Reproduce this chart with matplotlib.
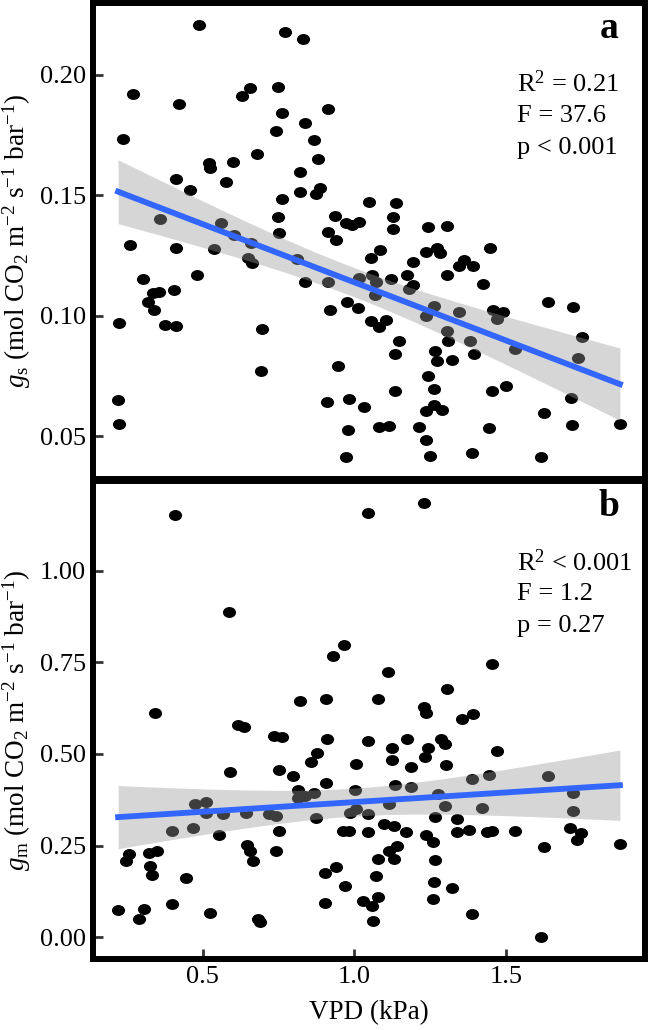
import numpy as np
import matplotlib
matplotlib.use("Agg")
from matplotlib import pyplot as plt
from matplotlib.markers import MarkerStyle
from matplotlib.transforms import Affine2D

plt.rcParams['font.family'] = ['Liberation Serif', 'DejaVu Serif']
plt.rcParams['mathtext.fontset'] = 'custom'
plt.rcParams['mathtext.rm'] = 'Liberation Serif'
plt.rcParams['mathtext.it'] = 'Liberation Serif:italic'
plt.rcParams['mathtext.bf'] = 'Liberation Serif:bold'

# panel a : stomatal conductance vs VPD
vpd_a = [0.488, 0.773, 0.830, 0.271, 0.422, 0.658, 0.631, 0.750, 0.761, 0.912,
         0.238, 0.742, 0.839, 0.868, 0.679, 0.881, 0.521, 0.525, 0.600, 0.414,
         0.461, 0.578, 0.823, 0.823, 0.887, 0.874, 0.761, 1.049, 0.362, 0.563,
         0.748, 0.751, 0.937, 0.973, 0.994, 1.014, 0.915, 1.137, 1.126, 1.126,
         1.241, 1.304, 0.263, 0.414, 0.537, 0.605, 0.660, 0.649, 0.663, 0.304,
         0.337, 0.359, 0.323, 0.340, 0.408, 0.481, 0.225, 0.378, 0.414, 0.695,
         0.693, 0.223, 0.227, 0.810, 0.839, 0.914, 0.940, 1.016, 0.976, 1.011,
         0.920, 0.945, 0.910, 0.984, 1.033, 0.980, 0.973, 1.085, 1.055, 1.192,
         1.236, 1.271, 1.282, 1.362, 1.343, 1.392, 1.446, 1.304, 1.422, 1.175,
         1.121, 1.060, 1.071, 1.192, 1.179, 1.069, 1.263, 1.236, 1.343, 1.455,
         1.488, 1.471, 1.639, 1.720, 1.055, 1.082, 1.106, 1.146, 1.135, 1.305,
         1.307, 1.382, 1.266, 1.271, 1.323, 1.395, 1.530, 1.748, 1.735, 1.241,
         1.135, 1.263, 1.453, 1.499, 1.713, 1.236, 1.263, 1.290, 1.625, 1.082,
         1.115, 1.212, 1.442, 1.718, 1.874, 1.236, 1.249, 1.389, 1.614]
gs = [0.2207, 0.2178, 0.2147, 0.1919, 0.1880, 0.1944, 0.1913, 0.1948, 0.1840, 0.1859,
      0.1732, 0.1768, 0.1800, 0.1729, 0.1671, 0.1650, 0.1633, 0.1611, 0.1636, 0.1567,
      0.1520, 0.1555, 0.1596, 0.1512, 0.1530, 0.1505, 0.1485, 0.1471, 0.1402, 0.1383,
      0.1408, 0.1343, 0.1413, 0.1386, 0.1375, 0.1389, 0.1347, 0.1468, 0.1409, 0.1361,
      0.1368, 0.1371, 0.1295, 0.1280, 0.1277, 0.1333, 0.1303, 0.1240, 0.1220, 0.1151,
      0.1093, 0.1100, 0.1056, 0.1023, 0.1106, 0.1170, 0.0970, 0.0963, 0.0958, 0.0946,
      0.0771, 0.0652, 0.0550, 0.1237, 0.1139, 0.1139, 0.1316, 0.1155, 0.1056, 0.1031,
      0.1024, 0.0791, 0.0643, 0.0653, 0.0622, 0.0527, 0.0416, 0.1272, 0.1240, 0.1224,
      0.1265, 0.1282, 0.1261, 0.1231, 0.1208, 0.1206, 0.1282, 0.1168, 0.1130, 0.1171,
      0.1151, 0.1168, 0.1141, 0.1127, 0.1111, 0.1086, 0.1042, 0.1001, 0.1015, 0.1024,
      0.1015, 0.0987, 0.1056, 0.1035, 0.0977, 0.0952, 0.0983, 0.0894, 0.0843, 0.0936,
      0.0894, 0.0894, 0.0853, 0.0814, 0.0818, 0.0842, 0.0864, 0.0912, 0.0825, 0.0752,
      0.0688, 0.0698, 0.0690, 0.0707, 0.0660, 0.0607, 0.0632, 0.0611, 0.0597, 0.0537,
      0.0544, 0.0540, 0.0534, 0.0546, 0.0550, 0.0487, 0.0420, 0.0431, 0.0413]

# panel b : mesophyll conductance vs VPD
vpd_b = [0.408, 1.044, 0.587, 0.964, 0.929, 0.819, 0.905, 0.344, 1.230, 1.453,
         1.110, 1.304, 1.077, 1.230, 1.236, 1.392, 1.356, 0.616, 0.636, 0.735,
         0.762, 0.910, 1.044, 0.877, 0.858, 1.006, 0.589, 0.751, 0.797, 0.907,
         0.813, 0.813, 0.836, 0.868, 1.003, 0.474, 0.510, 0.512, 0.567, 0.644,
         0.720, 0.742, 0.872, 0.984, 1.006, 1.044, 0.400, 0.468, 0.552, 0.751,
         0.962, 0.981, 1.044, 0.646, 0.657, 0.742, 0.258, 0.247, 0.323, 0.348,
         0.326, 0.333, 0.665, 0.446, 0.904, 0.940, 0.969, 0.221, 0.307, 0.289,
         0.400, 0.525, 0.682, 0.688, 0.902, 1.027, 1.062, 1.173, 1.123, 1.285,
         1.299, 1.244, 1.234, 1.469, 1.123, 1.187, 1.302, 1.389, 1.444, 1.639,
         1.134, 1.187, 1.276, 1.721, 1.115, 1.299, 1.419, 1.721, 1.266, 1.338,
         1.099, 1.132, 1.170, 1.236, 1.260, 1.338, 1.378, 1.438, 1.453, 1.529,
         1.710, 1.748, 1.735, 1.625, 1.875, 1.140, 1.113, 1.129, 1.079, 1.266,
         1.071, 1.263, 1.320, 1.260, 1.077, 1.058, 1.387, 1.614]
gm = [1.151, 1.156, 0.887, 0.796, 0.766, 0.643, 0.651, 0.611, 1.185, 0.746,
      0.724, 0.676, 0.649, 0.628, 0.612, 0.608, 0.595, 0.578, 0.574, 0.549,
      0.547, 0.542, 0.535, 0.502, 0.477, 0.472, 0.451, 0.456, 0.439, 0.420,
      0.402, 0.381, 0.386, 0.393, 0.402, 0.363, 0.370, 0.339, 0.336, 0.339,
      0.336, 0.330, 0.325, 0.339, 0.350, 0.336, 0.290, 0.297, 0.280, 0.291,
      0.289, 0.289, 0.286, 0.252, 0.236, 0.236, 0.227, 0.207, 0.230, 0.234,
      0.194, 0.171, 0.208, 0.161, 0.175, 0.191, 0.139, 0.075, 0.076, 0.049,
      0.092, 0.066, 0.051, 0.042, 0.093, 0.100, 0.045, 0.540, 0.517, 0.542,
      0.526, 0.517, 0.492, 0.509, 0.484, 0.463, 0.469, 0.431, 0.443, 0.439,
      0.415, 0.410, 0.392, 0.393, 0.363, 0.359, 0.352, 0.345, 0.327, 0.323,
      0.309, 0.304, 0.286, 0.279, 0.259, 0.288, 0.293, 0.286, 0.291, 0.290,
      0.297, 0.284, 0.265, 0.246, 0.253, 0.248, 0.236, 0.214, 0.214, 0.211,
      0.168, 0.151, 0.135, 0.105, 0.110, 0.085, 0.064, 0.000]

gs_ticks = [0.05, 0.10, 0.15, 0.20]
gm_ticks = [0.00, 0.25, 0.50, 0.75, 1.00]
vpd_ticks = [0.5, 1.0, 1.5]

stats_a = ["R$^2$ = 0.21", "F = 37.6", "p < 0.001"]
stats_b = ["R$^2$ < 0.001", "F = 1.2", "p = 0.27"]

ylab_a = r"$g_{\mathrm{s}}$ (mol CO$_2$ m$^{-2}$ s$^{-1}$ bar$^{-1}$)"
ylab_b = r"$g_{\mathrm{m}}$ (mol CO$_2$ m$^{-2}$ s$^{-1}$ bar$^{-1}$)"


def lm_band(x, y, n=100):
    # linear fit with 95% confidence band, like geom_smooth(method="lm")
    x = np.asarray(x)
    y = np.asarray(y)
    slope, icpt = np.polyfit(x, y, 1)
    xs = np.linspace(x.min(), x.max(), n)
    fit = icpt + slope * xs
    resid = y - (icpt + slope * x)
    s = np.sqrt(np.sum(resid ** 2) / (len(x) - 2))
    se = s * np.sqrt(1.0 / len(x) + (xs - x.mean()) ** 2 / np.sum((x - x.mean()) ** 2))
    t = 1.977
    return xs, fit, fit - t * se, fit + t * se


def panel(ax, x, y, yticks, ylab, letter, stats):
    dot = MarkerStyle('o', transform=Affine2D().scale(1.2, 1.0))
    ax.scatter(x, y, s=62, marker=dot, color='black', linewidths=0, zorder=2)
    xs, fit, lo, hi = lm_band(x, y)
    ax.fill_between(xs, lo, hi, color='#999999', alpha=0.4, linewidth=0, zorder=3)
    ax.plot(xs, fit, color='#3366FF', linewidth=4.2, zorder=4)
    ax.margins(0.05)
    ax.set_yticks(yticks)
    ax.set_yticklabels(["%.2f" % v for v in yticks])
    ax.set_xticks(vpd_ticks)
    for sp in ax.spines.values():
        sp.set_linewidth(4.3)
        sp.set_color('black')
    ax.tick_params(direction='in', length=7, width=2, color='#333333',
                   labelsize=19, pad=5)
    ax.set_ylabel(ylab, fontsize=19.5)
    ax.yaxis.set_label_coords(-0.108, 0.5)
    ax.text(0.935, 0.947, letter, transform=ax.transAxes, fontsize=27,
            fontweight='bold', ha='center', va='center')
    for i, s in enumerate(stats):
        ax.text(0.768, 0.83 - i * 0.067, s, transform=ax.transAxes,
                fontsize=19, ha='left', va='center')


fig = plt.figure(figsize=(6.5, 10.3), dpi=100)
ax1 = fig.add_axes([93 / 650, 1 - 479 / 1030, 552 / 650, 476 / 1030])
ax2 = fig.add_axes([93 / 650, 1 - 959 / 1030, 552 / 650, 478 / 1030])

panel(ax1, vpd_a, gs, gs_ticks, ylab_a, 'a', stats_a)
panel(ax2, vpd_b, gm, gm_ticks, ylab_b, 'b', stats_b)

ax1.tick_params(bottom=False, labelbottom=False)
ax2.set_xticklabels(["%.1f" % v for v in vpd_ticks])
ax2.set_xlabel("VPD (kPa)", fontsize=19.5, labelpad=9)

fig.savefig("out.png", dpi=100)
